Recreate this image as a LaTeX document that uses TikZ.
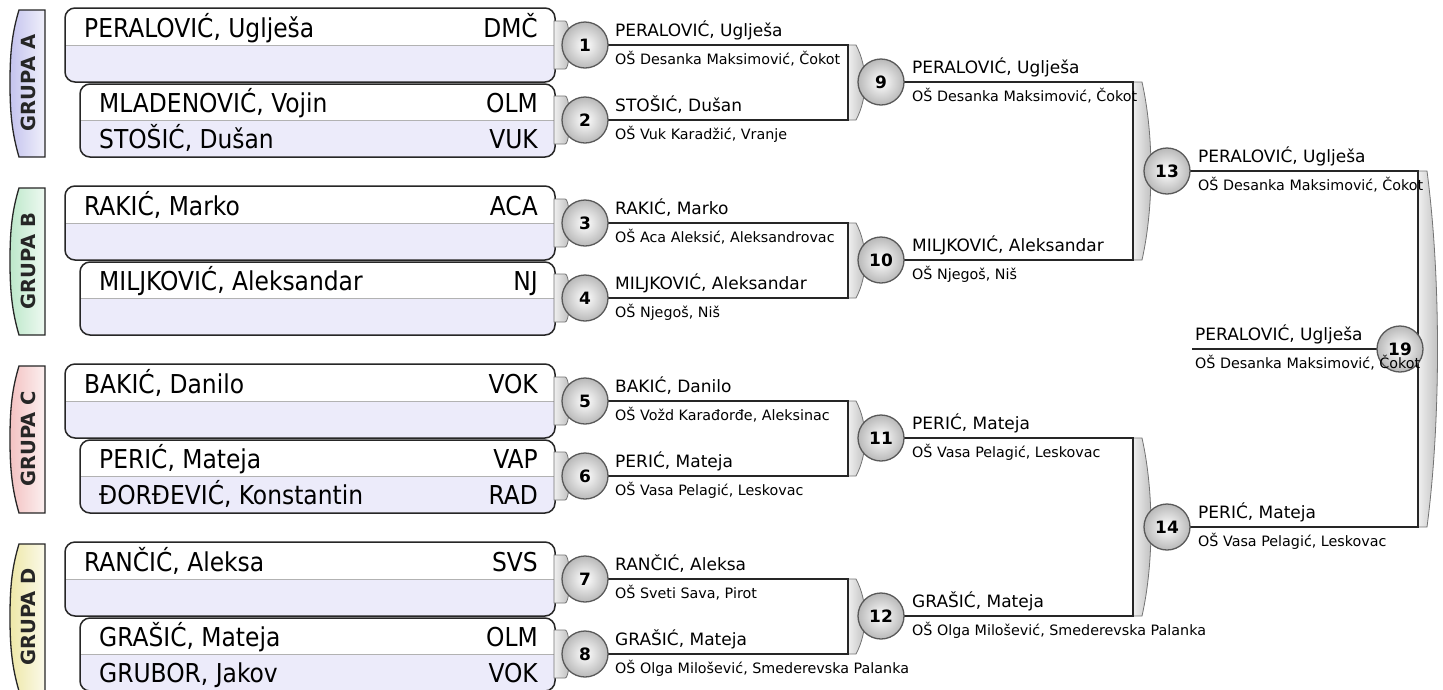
\documentclass[tikz,border=0pt]{standalone}
\usepackage{fontspec}
\setmainfont{DejaVu Sans}
\newfontfamily\boxfont{DejaVu Sans Condensed}
\definecolor{lavbox}{HTML}{ECEBFA}
\definecolor{tabA}{HTML}{C4C3EE}
\definecolor{tabB}{HTML}{BDE8CA}
\definecolor{tabC}{HTML}{F3C2C2}
\definecolor{tabD}{HTML}{EEE8A8}
\tikzset{
 tabshape/.style={draw=black!85, line width=1.3pt},
 grplabel/.style={rotate=90, font=\fontsize{19.5}{20}\selectfont\bfseries, text=black!85, inner sep=0},
 boxA/.style={draw=black!85, line width=1.5pt, rounded corners=10pt, fill=white, minimum width=490pt, minimum height=74pt, inner sep=0,
   path picture={\fill[lavbox, sharp corners] (path picture bounding box.west) rectangle (path picture bounding box.south east);
                 \draw[gray!60, line width=0.8pt, sharp corners] (path picture bounding box.west) -- (path picture bounding box.east);}},
 boxB/.style={boxA, minimum width=475pt, minimum height=73pt},
 pname/.style={font=\boxfont\fontsize{26}{28}\selectfont, anchor=base west, inner sep=0},
 pcode/.style={font=\boxfont\fontsize{26}{28}\selectfont, anchor=base east, inner sep=0},
 brk/.style={draw=black!55, line width=0.8pt, left color=gray!12, right color=gray!55},
 wire/.style={draw=black!85, line width=2.6pt},
 match/.style={circle, draw=black!65, line width=1.3pt, minimum size=46pt, inner sep=0, inner color=white, outer color=gray!55, font=\fontsize{17}{17}\selectfont\bfseries},
 nm/.style={font=\fontsize{17}{18}\selectfont, anchor=base west, inner sep=0},
 sch/.style={font=\fontsize{14.3}{15}\selectfont, anchor=base west, inner sep=0},
}
\newcommand{\grp}[4]{%
 \path[tabshape, left color=#4, right color=#4!25] (45,{#1+2}) -- (19,{#1+2}) .. controls (12,{#1+25}) and (10,{#1+45}) .. (10,{#1+75}) .. controls (10,{#1+105}) and (12,{#1+125}) .. (19,{#1+149}) -- (45,{#1+149}) -- cycle;
 \node[grplabel] (g#2) at (28,{#1+75}) {#3};
 \node[boxA] (bx#2a) at (310,{#1+37}) {};
 \node[boxB] (bx#2b) at (317.5,{#1+112.5}) {};
}
\newcommand{\brkshape}[5]{\path[brk] (#1,#2) -- ({#1+#4},#2) .. controls ({#1+#4+#5},{#2+0.3*(#3-#2)}) and ({#1+#4+#5},{#3-0.3*(#3-#2)}) .. ({#1+#4},#3) -- (#1,#3) -- cycle;}
\newcommand{\lbl}[5]{\node[nm] (n#1) at (#2,{#3-9}) {#4}; \node[sch] (s#1) at (#2,{#3+19}) {#5};}
\begin{document}
\begin{tikzpicture}[x=1pt,y=-1pt]
\useasboundingbox (0,0) rectangle (1443,689);
\fill[white] (0,0) rectangle (1443,689);

% groups
\grp{8}{A}{GRUPA A}{tabA}
\grp{186}{B}{GRUPA B}{tabB}
\grp{364}{C}{GRUPA C}{tabC}
\grp{542}{D}{GRUPA D}{tabD}

% player names in boxes
\node[pname] (pA1) at (84,37) {PERALOVIĆ, Uglješa};   \node[pcode] (kA1) at (538,37) {DMČ};
\node[pname] (pA2) at (99,112) {MLADENOVIĆ, Vojin};   \node[pcode] (kA2) at (538,112) {OLM};
\node[pname] (pA3) at (99,148) {STOŠIĆ, Dušan};       \node[pcode] (kA3) at (538,148) {VUK};
\node[pname] (pB1) at (84,215) {RAKIĆ, Marko};        \node[pcode] (kB1) at (538,215) {ACA};
\node[pname] (pB2) at (99,290) {MILJKOVIĆ, Aleksandar}; \node[pcode] (kB2) at (538,290) {NJ};
\node[pname] (pC1) at (84,393) {BAKIĆ, Danilo};       \node[pcode] (kC1) at (538,393) {VOK};
\node[pname] (pC2) at (99,468) {PERIĆ, Mateja};       \node[pcode] (kC2) at (538,468) {VAP};
\node[pname] (pC3) at (99,504) {ĐORĐEVIĆ, Konstantin}; \node[pcode] (kC3) at (538,504) {RAD};
\node[pname] (pD1) at (84,571) {RANČIĆ, Aleksa};      \node[pcode] (kD1) at (538,571) {SVS};
\node[pname] (pD2) at (99,646) {GRAŠIĆ, Mateja};      \node[pcode] (kD2) at (538,646) {OLM};
\node[pname] (pD3) at (99,682) {GRUBOR, Jakov};       \node[pcode] (kD3) at (538,682) {VOK};

% match centres
\coordinate (c1) at (585,45);  \coordinate (c2) at (585,120);
\coordinate (c3) at (585,223); \coordinate (c4) at (585,298);
\coordinate (c5) at (585,401); \coordinate (c6) at (585,476);
\coordinate (c7) at (585,579); \coordinate (c8) at (585,654);
\coordinate (c9) at (881,82);  \coordinate (c10) at (881,260);
\coordinate (c11) at (881,438); \coordinate (c12) at (881,616);
\coordinate (c13) at (1167,171); \coordinate (c14) at (1167,527);
\coordinate (c19) at (1400,349);
% bracket corners
\coordinate (k1) at (848,45);   \coordinate (k2) at (848,120);
\coordinate (k3) at (848,223);  \coordinate (k4) at (848,298);
\coordinate (k5) at (848,401);  \coordinate (k6) at (848,476);
\coordinate (k7) at (848,579);  \coordinate (k8) at (848,654);
\coordinate (k9) at (1133,82);  \coordinate (k10) at (1133,260);
\coordinate (k11) at (1133,438); \coordinate (k12) at (1133,616);
\coordinate (k13) at (1418,171); \coordinate (k14) at (1418,527);
\coordinate (f0) at (1192,349);

% first-round stubs
\foreach \y in {45,120,223,298,401,476,579,654}{\brkshape{554}{\y-24}{\y+24}{11}{6}}
% brackets
\brkshape{848}{45}{120}{8}{12}
\brkshape{848}{223}{298}{8}{12}
\brkshape{848}{401}{476}{8}{12}
\brkshape{848}{579}{654}{8}{12}
\brkshape{1133}{82}{260}{9}{12}
\brkshape{1133}{438}{616}{9}{12}
\brkshape{1418}{171}{527}{9}{14}

% wires
\draw[wire] (c1) -- (k1) -- (k2) -- (c2);
\draw[wire] (c3) -- (k3) -- (k4) -- (c4);
\draw[wire] (c5) -- (k5) -- (k6) -- (c6);
\draw[wire] (c7) -- (k7) -- (k8) -- (c8);
\draw[wire] (c9) -- (k9) -- (k10) -- (c10);
\draw[wire] (c11) -- (k11) -- (k12) -- (c12);
\draw[wire] (c13) -- (k13) -- (k14) -- (c14);
\draw[wire] (f0) -- (c19);

% match circles
\foreach \i in {1,...,14}{\node[match] (m\i) at (c\i) {\i};}
\node[match] (m19) at (c19) {19};

% labels
\lbl{1}{615}{45}{PERALOVIĆ, Uglješa}{OŠ Desanka Maksimović, Čokot}
\lbl{2}{615}{120}{STOŠIĆ, Dušan}{OŠ Vuk Karadžić, Vranje}
\lbl{3}{615}{223}{RAKIĆ, Marko}{OŠ Aca Aleksić, Aleksandrovac}
\lbl{4}{615}{298}{MILJKOVIĆ, Aleksandar}{OŠ Njegoš, Niš}
\lbl{5}{615}{401}{BAKIĆ, Danilo}{OŠ Vožd Karađorđe, Aleksinac}
\lbl{6}{615}{476}{PERIĆ, Mateja}{OŠ Vasa Pelagić, Leskovac}
\lbl{7}{615}{579}{RANČIĆ, Aleksa}{OŠ Sveti Sava, Pirot}
\lbl{8}{615}{654}{GRAŠIĆ, Mateja}{OŠ Olga Milošević, Smederevska Palanka}
\lbl{9}{912}{82}{PERALOVIĆ, Uglješa}{OŠ Desanka Maksimović, Čokot}
\lbl{10}{912}{260}{MILJKOVIĆ, Aleksandar}{OŠ Njegoš, Niš}
\lbl{11}{912}{438}{PERIĆ, Mateja}{OŠ Vasa Pelagić, Leskovac}
\lbl{12}{912}{616}{GRAŠIĆ, Mateja}{OŠ Olga Milošević, Smederevska Palanka}
\lbl{13}{1198}{171}{PERALOVIĆ, Uglješa}{OŠ Desanka Maksimović, Čokot}
\lbl{14}{1198}{527}{PERIĆ, Mateja}{OŠ Vasa Pelagić, Leskovac}
\lbl{19}{1195}{349}{PERALOVIĆ, Uglješa}{OŠ Desanka Maksimović, Čokot}
\end{tikzpicture}
\end{document}
